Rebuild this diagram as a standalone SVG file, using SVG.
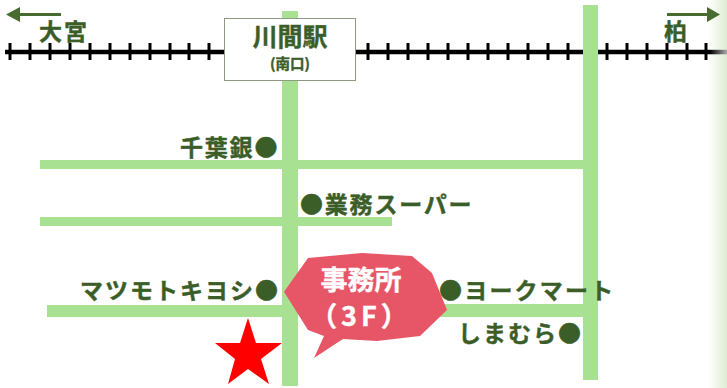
<svg xmlns="http://www.w3.org/2000/svg" width="727" height="388" viewBox="0 0 727 388">
<style>
text{font-family:"Noto Sans CJK JP","Noto Sans",sans-serif;font-weight:700;fill:#3b5d28;stroke:#3b5d28;stroke-width:.4px;text-anchor:start}
.road{fill:#a9e192}
.rail{stroke:#000;fill:none}
.arrow{fill:#486b30}
.lbl{font-size:23px}
.bub{fill:#fff;stroke:#fff;font-size:27px;text-anchor:middle}
</style>
<defs>
<linearGradient id="fade" x1="0" x2="1" y1="0" y2="0"><stop offset="0" stop-color="#fff"/><stop offset="1" stop-color="#dfecd2"/></linearGradient>
<linearGradient id="railfade" x1="0" x2="1" y1="0" y2="0"><stop offset="0" stop-color="#000"/><stop offset="1" stop-color="#aaa"/></linearGradient>
</defs>
<rect width="727" height="388" fill="#fff"/>
<rect id="edge-fade" x="708" y="0" width="19" height="388" fill="url(#fade)"/>
<g id="connectors">
<path class="rail" stroke-width="4.500" d="M5 52H710"/>
<path d="M710 49.800h17v4.500h-17z" fill="url(#railfade)"/>
<path class="rail" stroke-width="3" d="M10 43v17M30 43v17M50 43v17M70 43v17M90 43v17M110 43v17M130 43v17M150 43v17M170 43v17M189 43v17M209 43v17M368 43v17M388 43v17M408 43v17M428 43v17M448 43v17M468 43v17M488 43v17M508 43v17M528 43v17M548 43v17M568 43v17M607 43v17M627 43v17M647 43v17M667 43v17M687 43v17M706 43v17"/>
<rect class="road" x="282" y="11" width="16" height="375"/>
<rect class="road" x="583" y="5" width="15" height="375"/>
<rect class="road" x="40" y="160" width="543" height="9"/>
<rect class="road" x="40" y="217" width="352" height="9"/>
<rect class="road" x="47" y="305" width="235" height="12"/>
<rect class="road" x="440" y="304" width="143" height="13"/>
</g>
<g id="arrow-omiya"><path class="arrow" d="M6 14.500L20 7V13H61V16H20V22Z"/><text class="lbl" x="39" y="40" style="letter-spacing:2px">大宮</text></g>
<g id="arrow-kashiwa"><path class="arrow" d="M667 13H707V7L720 14.500L707 22V16H667Z"/><text class="lbl" x="664" y="40">柏</text></g>
<g id="station"><rect x="224.500" y="18.500" width="131" height="62" fill="#fff" stroke="#8f9a85"/><text x="290" y="46" style="font-size:25px;text-anchor:middle">川間駅</text><text x="290" y="69" style="font-size:14.500px;text-anchor:middle">(南口)</text></g>
<g id="chiba"><text class="lbl" x="180" y="156" style="letter-spacing:1.800px">千葉銀●</text></g>
<g id="gyomu"><text class="lbl" x="300" y="213" style="letter-spacing:1.800px">●業務スーパー</text></g>
<g id="matsumoto"><text class="lbl" x="80" y="299" style="letter-spacing:2px">マツモトキヨシ●</text></g>
<g id="york"><text class="lbl" x="439" y="299" style="letter-spacing:2.200px">●ヨークマート</text></g>
<g id="shimamura"><text class="lbl" x="458" y="342" style="letter-spacing:2px">しまむら●</text></g>
<g id="star"><polygon fill="#f00" points="248,318 256,343 282,343 261,359 269,384 248,369 228,384 235,359 215,343 240,343"/></g>
<g id="bubble"><polygon fill="#e75667" points="284,291.700 308,258 362,253 412,256 432,273 447,310 420,336 377,341 343,339 314,358 324,336 308,330"/><text class="bub" x="361" y="290">事務所</text><text class="bub" x="361" y="326" style="letter-spacing:4px">（3F）</text></g>
</svg>
